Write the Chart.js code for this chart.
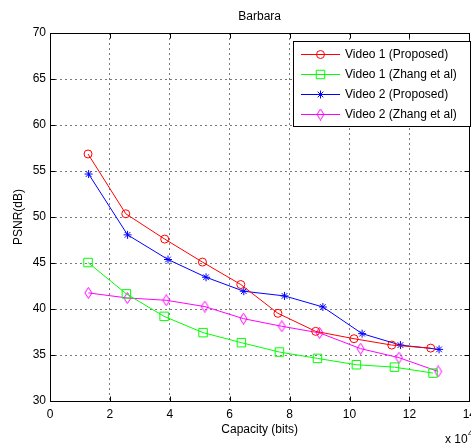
<!DOCTYPE html>
<html>
<head>
<meta charset="utf-8">
<script src="https://cdn.jsdelivr.net/npm/chart.js@4.4.1/dist/chart.umd.min.js"></script>
<style>
    html, body { margin: 0; padding: 0; background: #fff; overflow: hidden; }
    #wrap { width: 482px; height: 445px; }
</style>
</head>
<body>
<div id="wrap"><canvas id="grafico" width="482" height="445"></canvas></div>
<script>
// Capacidade em unidades de 10^4 bits, PSNR em dB
const capV1Prop = [1.27, 2.53, 3.83, 5.09, 6.37, 7.61, 8.87, 10.15, 11.41, 12.71];
const psnrV1Prop = [56.85, 50.35, 47.6, 45.1, 42.66, 39.53, 37.57, 36.77, 36.08, 35.75];

const capV1Zhang = [1.27, 2.55, 3.81, 5.11, 6.39, 7.66, 8.93, 10.23, 11.5, 12.79];
const psnrV1Zhang = [45.05, 41.64, 39.2, 37.43, 36.34, 35.32, 34.63, 33.94, 33.68, 33.03];

const capV2Prop = [1.29, 2.59, 3.94, 5.21, 6.47, 7.83, 9.11, 10.42, 11.7, 12.99];
const psnrV2Prop = [54.67, 48.06, 45.38, 43.45, 41.93, 41.42, 40.22, 37.32, 36.08, 35.61];

const capV2Zhang = [1.28, 2.58, 3.88, 5.17, 6.46, 7.74, 9.0, 10.37, 11.65, 12.96];
const psnrV2Zhang = [41.75, 41.2, 40.95, 40.26, 38.95, 38.12, 37.4, 35.69, 34.71, 33.21];

const seriesLabels = ["Video 1 (Proposed)", "Video 1 (Zhang et al)", "Video 2 (Proposed)", "Video 2 (Zhang et al)"];
const xTicks = [0, 2, 4, 6, 8, 10, 12, 14];
const yTicks = [30, 35, 40, 45, 50, 55, 60, 65, 70];

const FONTE = "'Liberation Sans', Arial, Helvetica, sans-serif";

const pontos = (xs, ys) => xs.map((x, i) => ({ x: x, y: ys[i] }));

// Losango alto, igual ao marcador do MATLAB
function losango(cor) {
    const c = document.createElement("canvas");
    c.width = 9; c.height = 12;
    const g = c.getContext("2d");
    g.strokeStyle = cor;
    g.lineWidth = 1;
    g.beginPath();
    g.moveTo(4.5, 0.5);
    g.lineTo(8, 6);
    g.lineTo(4.5, 11.5);
    g.lineTo(1, 6);
    g.closePath();
    g.stroke();
    return c;
}

function serie(label, dados, cor, estilo, raio) {
    return {
        label: label,
        data: dados,
        showLine: true,
        borderColor: cor,
        backgroundColor: "rgba(0,0,0,0)",
        borderWidth: 1,
        tension: 0,
        pointStyle: estilo,
        pointRadius: raio,
        pointHoverRadius: raio,
        pointBorderColor: cor,
        pointBackgroundColor: "rgba(0,0,0,0)",
        pointBorderWidth: 1
    };
}

// Moldura, marcas internas, titulo e multiplicador "x 10^4"
const moldura = {
    id: "moldura",
    afterDatasetsDraw(chart) {
        const ctx = chart.ctx;
        const a = chart.chartArea;
        const sx = chart.scales.x, sy = chart.scales.y;
        const L = Math.round(a.left) + 0.5, R = Math.round(a.right) + 0.5;
        const T = Math.round(a.top) + 0.5, B = Math.round(a.bottom) + 0.5;
        ctx.save();
        ctx.strokeStyle = "#000";
        ctx.lineWidth = 1;
        ctx.setLineDash([]);
        ctx.strokeRect(L, T, R - L, B - T);
        ctx.beginPath();
        xTicks.forEach(v => {
            const px = Math.round(sx.getPixelForValue(v)) + 0.5;
            ctx.moveTo(px, B); ctx.lineTo(px, B - 5);
            ctx.moveTo(px, T); ctx.lineTo(px, T + 5);
        });
        yTicks.forEach(v => {
            const py = Math.round(sy.getPixelForValue(v)) + 0.5;
            ctx.moveTo(L, py); ctx.lineTo(L + 5, py);
            ctx.moveTo(R, py); ctx.lineTo(R - 5, py);
        });
        ctx.stroke();

        ctx.fillStyle = "#000";
        ctx.font = "12px " + FONTE;
        ctx.textAlign = "center";
        ctx.textBaseline = "middle";
        ctx.fillText("Barbara", (a.left + a.right) / 2, 17);

        ctx.textAlign = "left";
        ctx.textBaseline = "alphabetic";
        ctx.fillText("x 10", 445, 443);
        ctx.font = "9px " + FONTE;
        ctx.fillText("4", 468, 436);
        ctx.restore();
    }
};

// Legenda no estilo do MATLAB (linha + marcador)
const legenda = {
    id: "legenda",
    afterDraw(chart) {
        const ctx = chart.ctx;
        ctx.save();
        ctx.setLineDash([]);
        ctx.fillStyle = "#fff";
        ctx.fillRect(293.5, 41.5, 177, 85);
        ctx.strokeStyle = "#000";
        ctx.lineWidth = 1;
        ctx.strokeRect(293.5, 41.5, 177, 85);
        chart.data.datasets.forEach((ds, i) => {
            const y = 54 + i * 20;
            ctx.strokeStyle = ds.borderColor;
            ctx.beginPath();
            ctx.moveTo(301, y + 0.5);
            ctx.lineTo(340, y + 0.5);
            ctx.stroke();
            ctx.fillStyle = "rgba(0,0,0,0)";
            Chart.helpers.drawPoint(ctx, {
                pointStyle: ds.pointStyle,
                radius: ds.pointRadius,
                borderWidth: 1,
                rotation: 0
            }, 320.5, y + 0.5);
            ctx.fillStyle = "#000";
            ctx.font = "12px " + FONTE;
            ctx.textAlign = "left";
            ctx.textBaseline = "middle";
            ctx.fillText(ds.label, 345, y + 1);
        });
        ctx.restore();
    }
};

// grade pontilhada do MATLAB
const grade = {
    color: "#7a7a7a",
    lineWidth: 1,
    drawTicks: false
};
const bordaGrade = { display: false, dash: [2, 3] };

new Chart(document.getElementById("grafico"), {
    type: "scatter",
    data: {
        datasets: [
            serie(seriesLabels[0], pontos(capV1Prop, psnrV1Prop), "#ff0000", "circle", 4),
            serie(seriesLabels[1], pontos(capV1Zhang, psnrV1Zhang), "#00ff00", "rect", 6),
            serie(seriesLabels[2], pontos(capV2Prop, psnrV2Prop), "#0000ff", "star", 4),
            serie(seriesLabels[3], pontos(capV2Zhang, psnrV2Zhang), "#ff00ff", losango("#ff00ff"), 5)
        ]
    },
    options: {
        responsive: false,
        animation: false,
        events: [],
        layout: { padding: { top: 33, right: 10, left: 0, bottom: 0 } },
        plugins: {
            legend: { display: false },
            tooltip: { enabled: false },
            title: { display: false }
        },
        scales: {
            x: {
                type: "linear",
                min: 0,
                max: 14,
                afterBuildTicks: s => { s.ticks = xTicks.map(v => ({ value: v })); },
                afterFit: s => { s.height = 44; },
                grid: grade,
                border: bordaGrade,
                ticks: { color: "#000", padding: 6, maxRotation: 0, font: { family: FONTE, size: 12 } },
                title: {
                    display: true,
                    text: "Capacity (bits)",
                    color: "#000",
                    padding: { top: 0, bottom: 8 },
                    font: { family: FONTE, size: 12 }
                }
            },
            y: {
                min: 30,
                max: 70,
                afterBuildTicks: s => { s.ticks = yTicks.map(v => ({ value: v })); },
                afterFit: s => { s.width = 50; },
                grid: grade,
                border: bordaGrade,
                ticks: { color: "#000", padding: 4, font: { family: FONTE, size: 12 } },
                title: {
                    display: true,
                    text: "PSNR(dB)",
                    color: "#000",
                    padding: { top: 11, bottom: 0 },
                    font: { family: FONTE, size: 12 }
                }
            }
        }
    },
    plugins: [moldura, legenda]
});
</script>
</body>
</html>
